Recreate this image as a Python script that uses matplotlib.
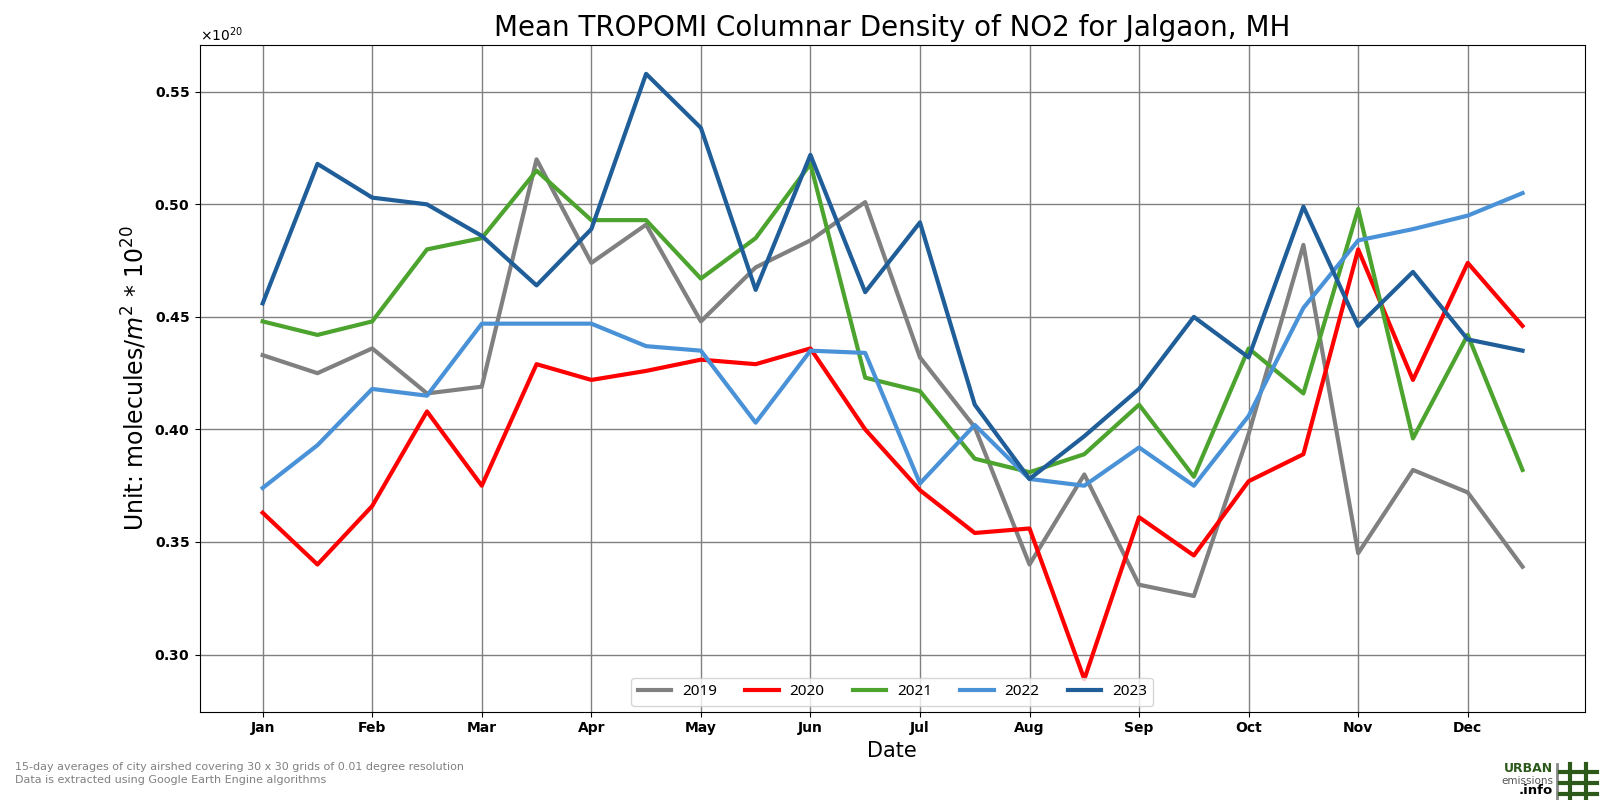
import matplotlib
matplotlib.use("Agg")
import matplotlib.pyplot as plt
from matplotlib.lines import Line2D
import numpy as np

months = ["Jan", "Feb", "Mar", "Apr", "May", "Jun", "Jul", "Aug", "Sep", "Oct", "Nov", "Dec"]
years = ["2019", "2020", "2021", "2022", "2023"]

# 15-day means (1st and 16th of each month), units of 1e20 molecules/m^2
v2019 = [0.433, 0.425, 0.436, 0.416, 0.419, 0.520, 0.474, 0.491, 0.448, 0.472, 0.484, 0.501,
         0.432, 0.401, 0.340, 0.380, 0.331, 0.326, 0.398, 0.482, 0.345, 0.382, 0.372, 0.339]
v2020 = [0.363, 0.340, 0.366, 0.408, 0.375, 0.429, 0.422, 0.426, 0.431, 0.429, 0.436, 0.400,
         0.373, 0.354, 0.356, 0.289, 0.361, 0.344, 0.377, 0.389, 0.480, 0.422, 0.474, 0.446]
v2021 = [0.448, 0.442, 0.448, 0.480, 0.485, 0.515, 0.493, 0.493, 0.467, 0.485, 0.518, 0.423,
         0.417, 0.387, 0.381, 0.389, 0.411, 0.379, 0.436, 0.416, 0.498, 0.396, 0.442, 0.382]
v2022 = [0.374, 0.393, 0.418, 0.415, 0.447, 0.447, 0.447, 0.437, 0.435, 0.403, 0.435, 0.434,
         0.376, 0.402, 0.378, 0.375, 0.392, 0.375, 0.406, 0.454, 0.484, 0.489, 0.495, 0.505]
v2023 = [0.456, 0.518, 0.503, 0.500, 0.486, 0.464, 0.489, 0.558, 0.534, 0.462, 0.522, 0.461,
         0.492, 0.411, 0.378, 0.397, 0.418, 0.450, 0.432, 0.499, 0.446, 0.470, 0.440, 0.435]
series = [v2019, v2020, v2021, v2022, v2023]
colors = ["#808080", "#ff0000", "#4ca32e", "#4a92d8", "#1f5e99"]

fig = plt.figure(figsize=(16, 8), dpi=100)
ax = fig.add_axes([0.1248, 0.1104, 0.8658, 0.8336])

x = np.arange(len(v2019))
for name, vals, c in zip(years, series, colors):
    ax.plot(x, np.array(vals) * 1e20, color=c, lw=3, label=name)

ax.set_xlim(-1.15, 24.14)
ax.set_ylim(0.2746e20, 0.5709e20)
ax.set_xticks(np.arange(0, 24, 2))
ax.set_xticklabels(months, fontweight="bold", fontsize=10)
ax.set_yticks(np.arange(0.30, 0.56, 0.05) * 1e20)
fmt = matplotlib.ticker.ScalarFormatter(useMathText=True)
fmt.set_powerlimits((20, 20))
ax.yaxis.set_major_formatter(fmt)
for lab in ax.get_yticklabels():
    lab.set_fontweight("bold")
    lab.set_fontsize(10)
ax.grid(True, color="gray", lw=1)
ax.set_axisbelow(True)

ax.set_title("Mean TROPOMI Columnar Density of NO2 for Jalgaon, MH", fontsize=20)
ax.set_xlabel("Date", fontsize=15)
ax.set_ylabel("Unit: molecules/$m^2$ * $10^{20}$", fontsize=17)
ax.legend(loc="lower center", ncol=5, handlelength=2.2, handletextpad=0.7,
          columnspacing=1.85, borderaxespad=0.4,
          prop={"family": ["Noto Sans", "DejaVu Sans"], "size": 11})

fig.text(0.0095, 0.0408, "15-day averages of city airshed covering 30 x 30 grids of 0.01 degree resolution",
         fontsize=8, color="gray", va="center")
fig.text(0.0095, 0.0255, "Data is extracted using Google Earth Engine algorithms",
         fontsize=8, color="gray", va="center")

# logo
green = "#2d5a1b"
fig.text(0.9706, 0.039, "URBAN", fontsize=9, fontweight="bold", color=green, ha="right", va="center")
fig.text(0.9706, 0.024, "emissions", fontsize=7.5, color="#555555", ha="right", va="center")
fig.text(0.9706, 0.0115, ".info", fontsize=9.5, fontweight="bold", color="black", ha="right", va="center")
fig.add_artist(Line2D([0.973, 0.973], [0.0, 0.045], color="#888888", lw=2,
                      transform=fig.transFigure))
for xv in [0.981, 0.991]:
    fig.add_artist(Line2D([xv, xv], [0.0, 0.045], color=green, lw=3, transform=fig.transFigure))
for yv in [0.0075, 0.021, 0.035]:
    fig.add_artist(Line2D([0.975, 0.998], [yv, yv], color=green, lw=3, transform=fig.transFigure))

fig.savefig("out.png", dpi=100)
